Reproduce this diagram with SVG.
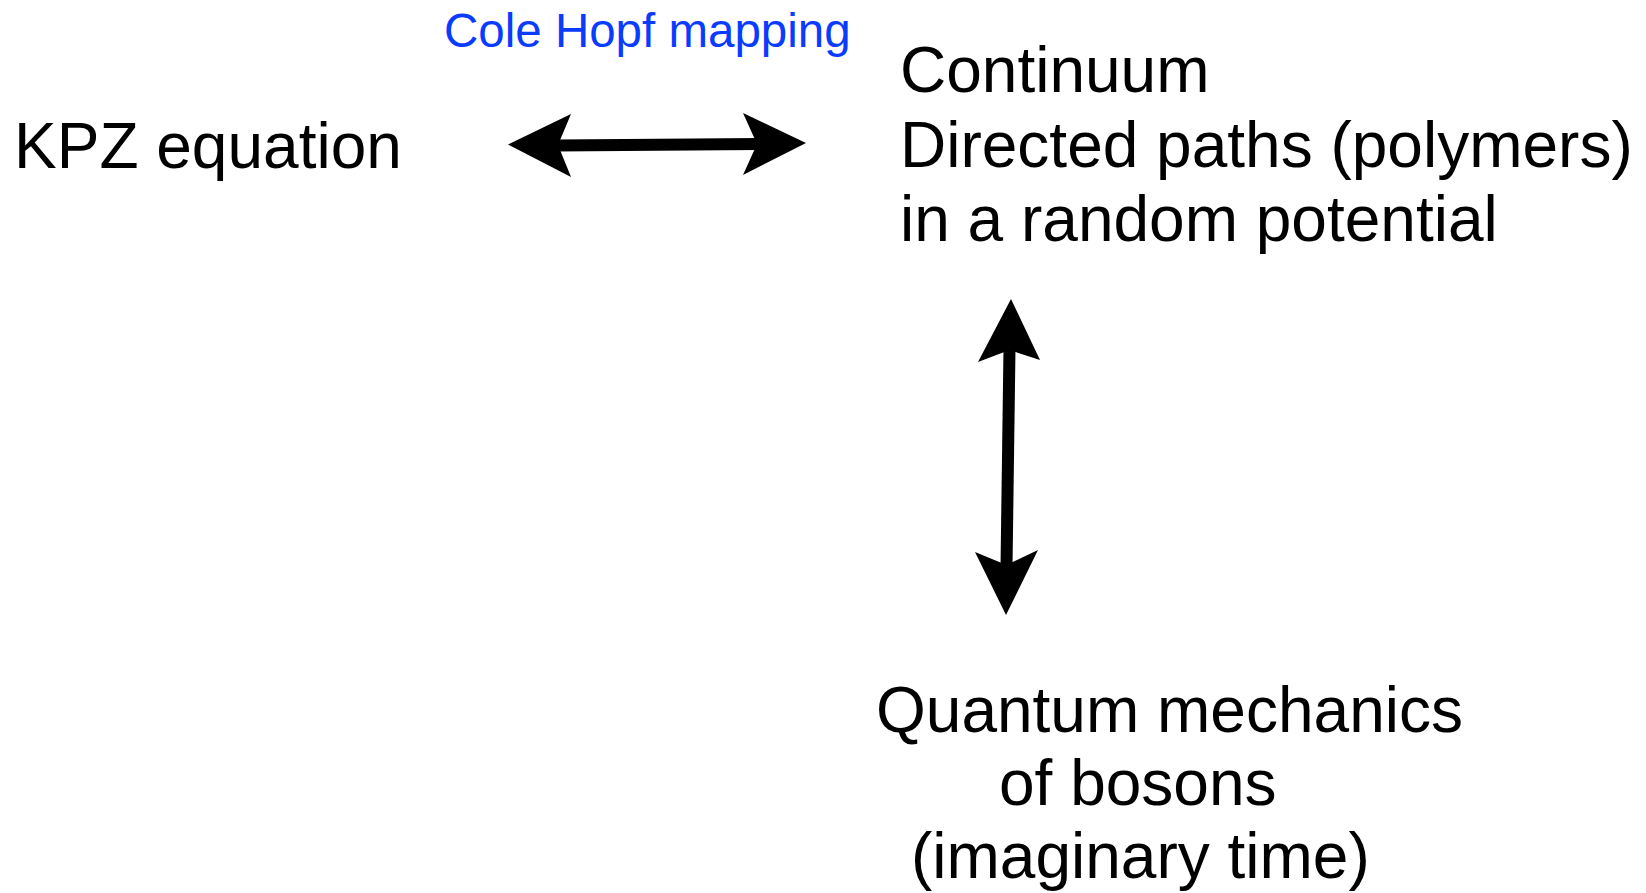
<svg xmlns="http://www.w3.org/2000/svg" width="1646" height="893" viewBox="0 0 1646 893">
  <style>
    .lbl { font-family: "Liberation Sans", Arial, sans-serif; font-size: 64px; fill: #000; }
    .map { font-family: "Liberation Sans", Arial, sans-serif; font-size: 47.5px; fill: #0a3cff; }
    .shaft { stroke: #000; stroke-width: 12; fill: none; }
    .head { fill: #000; stroke: none; }
  </style>
  <rect width="1646" height="893" fill="#fff"/>

  <g id="kpz">
    <text class="lbl" x="14" y="168">KPZ equation</text>
  </g>

  <g id="polymers">
    <text class="lbl" x="900" y="92">Continuum</text>
    <text class="lbl" x="900" y="167">Directed paths (polymers)</text>
    <text class="lbl" x="900" y="241">in a random potential</text>
  </g>

  <g id="bosons">
    <text class="lbl" x="876" y="732">Quantum mechanics</text>
    <text class="lbl" x="999" y="805">of bosons</text>
    <text class="lbl" x="911" y="878">(imaginary time)</text>
  </g>

  <g id="connectors">
    <!-- Cole Hopf mapping: KPZ <-> directed polymers -->
    <g id="cole-hopf">
      <line class="shaft" x1="556" y1="145.5" x2="760" y2="144"/>
      <polygon class="head" points="508,144.5 571,114 558,145 571,177"/>
      <polygon class="head" points="806,143 743,113 757,144 743,175"/>
      <text class="map" x="444" y="47">Cole Hopf mapping</text>
    </g>
    <!-- directed polymers <-> quantum bosons -->
    <g id="polymer-boson">
      <line class="shaft" x1="1009.5" y1="348" x2="1006.5" y2="567"/>
      <polygon class="head" points="1011,299 978,362 1009.5,350 1040,360"/>
      <polygon class="head" points="1006,615 975,552 1006.5,565 1038,550"/>
    </g>
  </g>
</svg>
